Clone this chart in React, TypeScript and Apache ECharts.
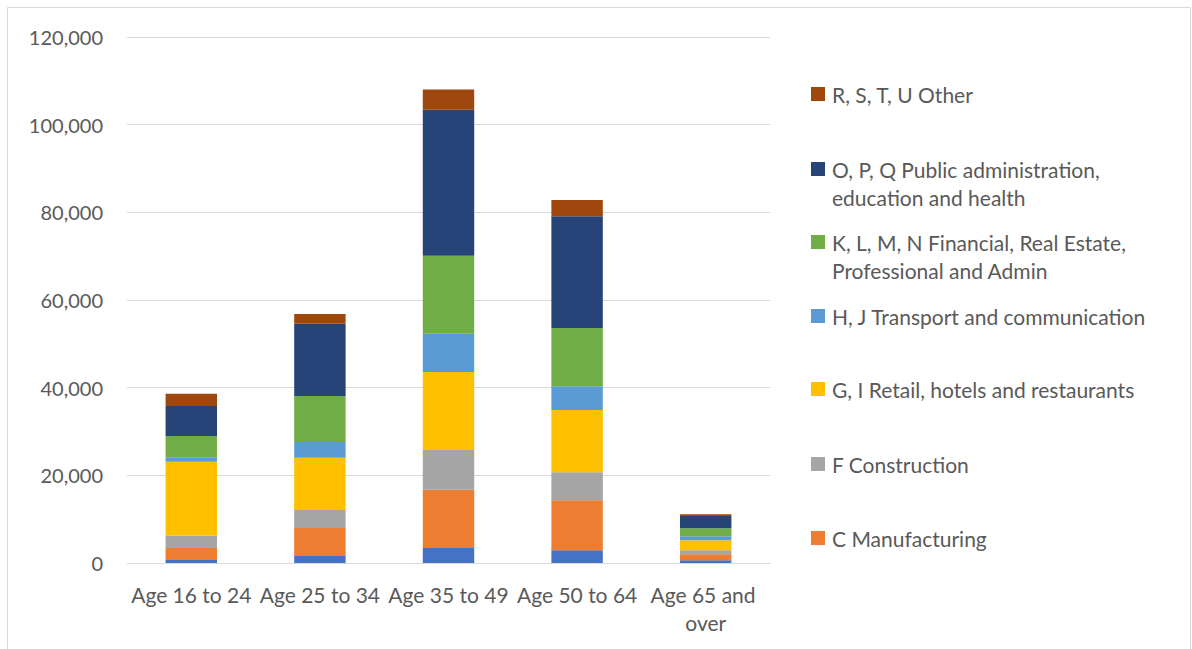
import React, { useEffect, useRef } from "react";
import * as echarts from "echarts";

const categories = ["Age 16 to 24", "Age 25 to 34", "Age 35 to 49", "Age 50 to 64", "Age 65 and over"];
const yTicks = [0, 20000, 40000, 60000, 80000, 100000, 120000];

const agriEnergy = [700, 1600, 3400, 2900, 600];
const manufacturing = [2700, 6400, 13300, 11400, 1400];
const construction = [2800, 4100, 9100, 6400, 900];
const retail = [16900, 11900, 17800, 14200, 2300];
const transport = [900, 3600, 8700, 5400, 900];
const financial = [5000, 10500, 17800, 13300, 1800];
const publicAdmin = [6800, 16500, 33300, 25500, 2800];
const other = [2800, 2200, 4600, 3700, 400];

const seriesDefs = [
  { name: "A, B, D, E", data: agriEnergy, color: "#4472C4", legend: false },
  { name: "C Manufacturing", data: manufacturing, color: "#ED7D31", legend: true },
  { name: "F Construction", data: construction, color: "#A5A5A5", legend: true },
  { name: "G, I Retail, hotels and restaurants", data: retail, color: "#FFC000", legend: true },
  { name: "H, J Transport and communication", data: transport, color: "#5B9BD5", legend: true },
  { name: "K, L, M, N Financial, Real Estate, Professional and Admin", data: financial, color: "#70AD47", legend: true },
  { name: "O, P, Q Public administration, education and health", data: publicAdmin, color: "#264478", legend: true },
  { name: "R, S, T, U Other", data: other, color: "#9E480E", legend: true },
];

const legendLines: Record<string, string> = {
  "K, L, M, N Financial, Real Estate, Professional and Admin": " \nK, L, M, N Financial, Real Estate,\nProfessional and Admin",
  "O, P, Q Public administration, education and health": " \nO, P, Q Public administration,\neducation and health",
};

// legend icon centre y positions (layout)
const legendCenters: Record<string, number> = {
  "R, S, T, U Other": 94,
  "O, P, Q Public administration, education and health": 169,
  "K, L, M, N Financial, Real Estate, Professional and Admin": 242,
  "H, J Transport and communication": 316,
  "G, I Retail, hotels and restaurants": 389,
  "F Construction": 464,
  "C Manufacturing": 538,
};

const FONT = "Lato";
const TXT = "#595959";

export default function App() {
  const ref = useRef<HTMLDivElement>(null);
  useEffect(() => {
    if (!ref.current) return;
    const chart = echarts.init(ref.current, null, { renderer: "svg" });
    const lh = 28;
    const legends = seriesDefs
      .filter((s) => s.legend)
      .map((s) => {
        const twoLine = !!legendLines[s.name];
        const c = legendCenters[s.name];
        return {
          data: [s.name],
          left: 811,
          top: twoLine ? c - lh * 1.5 : c - lh / 2,
          padding: 0,
          itemWidth: 14,
          itemHeight: 14,
          icon: "rect",
          selectedMode: false,
          formatter: (n: string) => legendLines[n] || n,
          textStyle: {
            fontFamily: FONT,
            fontSize: 21,
            color: TXT,
            lineHeight: lh,
            padding: [0, 0, 0, 2],
          },
        };
      });
    chart.setOption({
      animation: false,
      backgroundColor: "#ffffff",
      textStyle: { fontFamily: FONT },
      grid: { left: 127, right: 422, top: 37, bottom: 86, containLabel: false },
      legend: legends,
      graphic: [
        {
          type: "rect",
          shape: { x: 7.5, y: 7.5, width: 1183, height: 700 },
          style: { fill: "none", stroke: "#D9D9D9", lineWidth: 1 },
          silent: true,
          z: -1,
        },
      ],
      xAxis: {
        type: "category",
        data: categories,
        axisLine: { lineStyle: { color: "#D9D9D9", width: 1 } },
        axisTick: { show: false },
        axisLabel: {
          interval: 0,
          fontFamily: FONT,
          fontSize: 21,
          color: TXT,
          margin: 17,
          lineHeight: 28,
          width: 127,
          overflow: "break",
        },
      },
      yAxis: {
        type: "value",
        min: 0,
        max: 120000,
        interval: 20000,
        axisLine: { show: false },
        axisTick: { show: false },
        splitLine: { lineStyle: { color: "#D9D9D9", width: 1 } },
        axisLabel: {
          fontFamily: FONT,
          fontSize: 20,
          color: TXT,
          margin: 24,
          formatter: (v: number) => (yTicks.includes(v) ? v.toLocaleString("en-US") : ""),
        },
      },
      series: seriesDefs.map((s) => ({
        name: s.name,
        type: "bar",
        stack: "total",
        data: s.data,
        barWidth: "40%",
        itemStyle: { color: s.color },
      })),
    });
    return () => chart.dispose();
  }, []);
  return (
    <div
      ref={ref}
      style={{ position: "absolute", left: 0, top: 0, width: 1192, height: 649 }}
    />
  );
}
